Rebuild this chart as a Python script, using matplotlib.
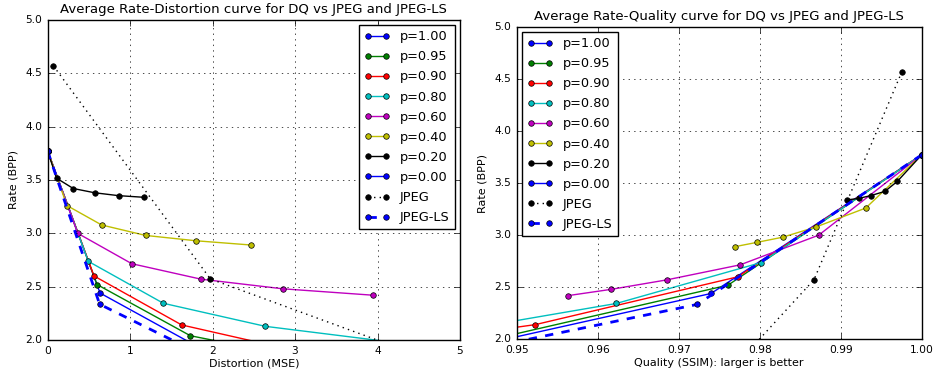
import matplotlib
matplotlib.use('Agg')
import matplotlib.pyplot as plt

# per-series curves: distortion (MSE), rate (BPP), quality (SSIM)
labels = ['p=1.00', 'p=0.95', 'p=0.90', 'p=0.80', 'p=0.60', 'p=0.40', 'p=0.20', 'p=0.00']
colors = ['b', 'g', 'r', 'c', 'm', 'y', 'k', 'b']

mse_p100 = [0, 0.635, 2.0]
bpp_p100 = [3.77, 2.44, 1.86]
ssim_p100 = [1.0, 0.974, 0.9405]

mse_p095 = [0, 0.598, 1.73, 2.9]
bpp_p095 = [3.77, 2.52, 2.04, 1.86]
ssim_p095 = [1.0, 0.9761, 0.9492, 0.93]

mse_p090 = [0, 0.562, 1.625, 3.0]
bpp_p090 = [3.77, 2.60, 2.141, 1.9]
ssim_p090 = [1.0, 0.9773, 0.9523, 0.93]

mse_p080 = [0, 0.493, 1.403, 2.64, 4.49]
bpp_p080 = [3.77, 2.737, 2.344, 2.128, 1.95]
ssim_p080 = [1.0, 0.9802, 0.9623, 0.9461, 0.94]

mse_p060 = [0, 0.364, 1.02, 1.86, 2.85, 3.94]
bpp_p060 = [3.77, 3.0, 2.715, 2.57, 2.48, 2.42]
ssim_p060 = [1.0, 0.9873, 0.9776, 0.9685, 0.9617, 0.9564]

mse_p040 = [0, 0.234, 0.655, 1.188, 1.80, 2.47]
bpp_p040 = [3.77, 3.26, 3.078, 2.98, 2.93, 2.89]
ssim_p040 = [1.0, 0.9931, 0.98695, 0.98284, 0.97963, 0.977]

mse_p020 = [0, 0.109, 0.31, 0.57, 0.86, 1.17]
bpp_p020 = [3.77, 3.516, 3.42, 3.38, 3.353, 3.3375]
ssim_p020 = [1.0, 0.997, 0.99547, 0.99375, 0.99227, 0.99078]

mse_p000 = [0]
bpp_p000 = [3.77]
ssim_p000 = [1.0]

mse_jpeg = [0.069, 1.973, 4.1]
bpp_jpeg = [4.57, 2.572, 1.97]
ssim_jpeg = [0.99757, 0.98671, 0.9796]

mse_jls = [0, 0.63, 1.9]
bpp_jls = [3.77, 2.335, 1.85]
ssim_jls = [1.0, 0.9723, 0.9421]

mse_all = [mse_p100, mse_p095, mse_p090, mse_p080, mse_p060, mse_p040, mse_p020, mse_p000]
bpp_all = [bpp_p100, bpp_p095, bpp_p090, bpp_p080, bpp_p060, bpp_p040, bpp_p020, bpp_p000]
ssim_all = [ssim_p100, ssim_p095, ssim_p090, ssim_p080, ssim_p060, ssim_p040, ssim_p020, ssim_p000]

plt.style.use('classic')
plt.rcParams['font.family'] = ['DejaVu Sans']
plt.rcParams['xtick.labelsize'] = 7.7
plt.rcParams['ytick.labelsize'] = 7.7

fig = plt.figure(figsize=(9.37, 3.73), dpi=100, facecolor='w')
ax1 = fig.add_axes([0.0509, 0.0885, 0.440, 0.858])
ax2 = fig.add_axes([0.5514, 0.0903, 0.4322, 0.838])

mk = dict(marker='o', markersize=4, markeredgecolor='k', markeredgewidth=0.5)


def draw(ax, xs_all, xj, xl):
    for xs, ys, lab, col in zip(xs_all, bpp_all, labels, colors):
        ax.plot(xs, ys, '-', color=col, lw=1, label=lab, markerfacecolor=col, **mk)
    ax.plot(xj, bpp_jpeg, ':', color='k', lw=1, label='JPEG', markerfacecolor='k', **mk)
    ax.plot(xl, bpp_jls, '--', color='b', lw=2, label='JPEG-LS', markerfacecolor='b', **mk)
    ax.grid(True, color='k', linestyle=':', linewidth=0.5)
    ax.set_ylim(2.0, 5.0)
    ax.set_ylabel('Rate (BPP)', fontsize=8)


draw(ax1, mse_all, mse_jpeg, mse_jls)
ax1.set_xlim(0, 5)
ax1.set_xlabel('Distortion (MSE)', fontsize=8, labelpad=2)
ax1.set_title('Average Rate-Distortion curve for DQ vs JPEG and JPEG-LS', fontsize=9.5)
ax1.legend(loc='upper right', fontsize=9.3, numpoints=2, handlelength=2,
           borderaxespad=0.4, labelspacing=0.55)

draw(ax2, ssim_all, ssim_jpeg, ssim_jls)
ax2.set_xlim(0.95, 1.0)
ax2.set_xticks([0.95, 0.96, 0.97, 0.98, 0.99, 1.00])
ax2.set_xticklabels(['0.95', '0.96', '0.97', '0.98', '0.99', '1.00'])
ax2.set_xlabel('Quality (SSIM): larger is better', fontsize=8, labelpad=2)
ax2.set_title('Average Rate-Quality curve for DQ vs JPEG and JPEG-LS', fontsize=9.5)
ax2.legend(loc='upper left', fontsize=9.3, numpoints=2, handlelength=2,
           borderaxespad=0.4, labelspacing=0.55)

fig.savefig('out.png', dpi=100, facecolor='w')
